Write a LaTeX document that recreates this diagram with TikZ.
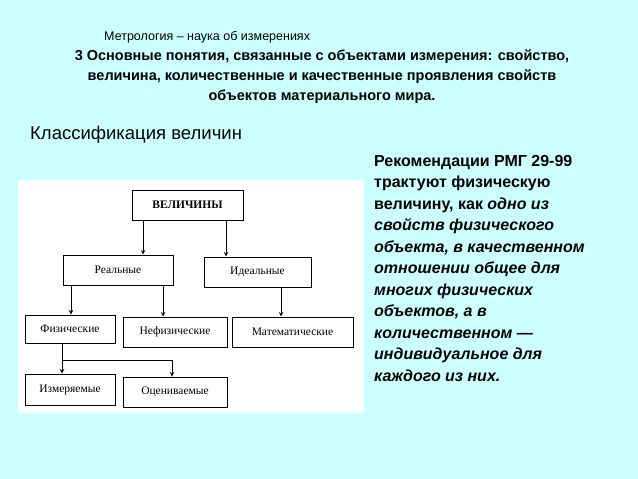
\documentclass[tikz,border=0pt]{standalone}
\usepackage{fontspec}
\setmainfont{Liberation Sans}
\newfontfamily\boxfont{Liberation Serif}
\definecolor{bgcyan}{HTML}{CCFFFF}
\usetikzlibrary{positioning}

\begin{document}
\begin{tikzpicture}[x=1pt,y=-1pt]
\tikzstyle{every node}+=[inner sep=0pt]
\tikzstyle{cls}=[draw=black,line width=1pt,fill=white,font=\boxfont\fontsize{11.5}{13}\selectfont]
\tikzstyle{arr}=[->,>=stealth,line width=1pt]
\fill [bgcyan] (0,0) rectangle (638,479);
\useasboundingbox (0,0) rectangle (638,479);
\node (sub) [anchor=west,font=\fontsize{12.5}{14}\selectfont] at (104,37) {Метрология – наука об измерениях};
\node (title) [align=center,font=\bfseries\fontsize{14.5}{20}\selectfont] at (322,77) {3 Основные понятия, связанные с объектами измерения: свойство,\\величина, количественные и качественные проявления свойств\\объектов материального мира.};
\node (cap) [anchor=west,font=\fontsize{18.5}{22}\selectfont] at (30,135) {Классификация величин};
\fill [white] (18,180) rectangle (364,413);
\node (vel) [cls,minimum width=111pt,minimum height=30pt,font=\boxfont\bfseries\fontsize{11.5}{13}\selectfont] at (187.5,205) {ВЕЛИЧИНЫ};
\node (real) [cls,minimum width=110pt,minimum height=30pt] at (118,270) {Реальные};
\node (ideal) [cls,minimum width=107pt,minimum height=30pt] at (257.5,272) {Идеальные};
\node (phys) [cls,minimum width=90pt,minimum height=28pt] at (70,329) {Физические};
\node (nphys) [cls,minimum width=104pt,minimum height=30pt] at (175,332) {Нефизические};
\node (math) [cls,minimum width=121pt,minimum height=30pt] at (292.5,332) {Математические};
\node (meas) [cls,minimum width=90pt,minimum height=31pt] at (70,389.5) {Измеряемые};
\node (est) [cls,minimum width=104pt,minimum height=30pt] at (175,392) {Оцениваемые};
\draw [arr] (vel.south -| 143,0) -- (real.north -| 143,0);
\draw [arr] (vel.south -| 226,0) -- (ideal.north -| 226,0);
\draw [arr] (real.south -| 71,0) -- (phys.north -| 71,0);
\draw [arr] (real.south -| 163,0) -- (nphys.north -| 163,0);
\draw [arr] (ideal.south -| 281,0) -- (math.north -| 281,0);
\draw [arr] (phys.south -| 62,0) -- (meas.north -| 62,0);
\draw [arr] (62,360) -- (172,360) -- (est.north -| 172,0);
\node (rmg) [anchor=north west,align=left,font=\bfseries\fontsize{16}{21.5}\selectfont] at (374,155) {Рекомендации РМГ 29-99\\трактуют физическую\\величину, как \textit{одно из}\\\textit{свойств физического}\\\textit{объекта, в качественном}\\\textit{отношении общее для}\\\textit{многих физических}\\\textit{объектов, а в}\\\textit{количественном —}\\\textit{индивидуальное для}\\\textit{каждого из них.}};
\end{tikzpicture}
\end{document}
